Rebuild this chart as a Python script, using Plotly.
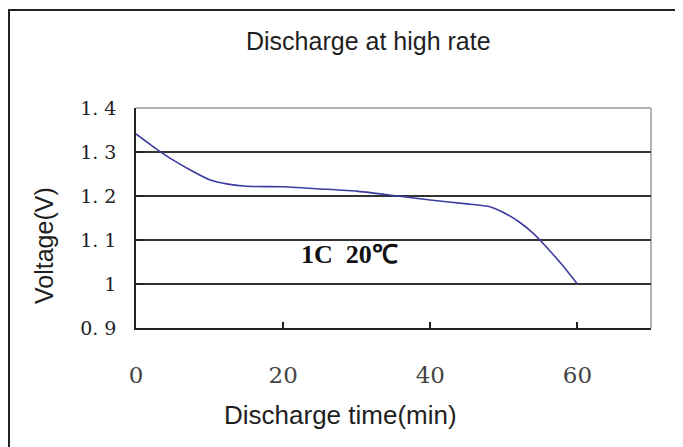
import plotly.graph_objects as go

# discharge curve
time_min = [0, 2.5, 5, 7.5, 10, 12.5, 15, 20, 25, 30, 35, 40, 45, 48, 50, 52, 54, 56, 58, 60]
voltage = [1.341, 1.31, 1.282, 1.258, 1.237, 1.227, 1.222, 1.221, 1.216, 1.211, 1.201, 1.191, 1.182, 1.176, 1.162, 1.142, 1.115, 1.08, 1.042, 1.0]

y_ticks = [0.9, 1.0, 1.1, 1.2, 1.3, 1.4]
y_labels = ["0. 9", "1", "1. 1", "1. 2", "1. 3", "1. 4"]
x_ticks = [0, 20, 40, 60]
grid_lines = [1.0, 1.1, 1.2, 1.3]

_LINE = "#3c3c9e"
_AXIS = "#222222"
_EDGE = "#9a9a9a"
_TEXT = "#1f1f1f"
_SANS = "Liberation Sans, Arial, sans-serif"
_SERIF = "DejaVu Serif, serif"

fig = go.Figure()
fig.add_trace(go.Scatter(
    x=time_min, y=voltage,
    mode="lines",
    line=dict(color=_LINE, width=1.6, shape="spline", smoothing=0.4),
    showlegend=False,
    hoverinfo="skip",
))

fig.add_annotation(
    x=29, y=1.066, xref="x", yref="y",
    text="<b>1C  20℃</b>", showarrow=False,
    font=dict(family="Liberation Serif, serif", size=26, color="#111111"),
)

# title and axis titles, placed where the original has them
fig.add_annotation(x=0.4505, y=1.3045, xref="paper", yref="paper", text="Discharge at high rate",
                   xanchor="center", yanchor="middle",
                   showarrow=False, font=dict(family=_SANS, size=25, color=_TEXT))
fig.add_annotation(x=0.398, y=-0.3955, xref="paper", yref="paper", text="Discharge time(min)",
                   xanchor="center", yanchor="middle",
                   showarrow=False, font=dict(family=_SANS, size=26, color=_TEXT))
fig.add_annotation(x=-0.1786, y=0.3727, xref="paper", yref="paper", text="Voltage(V)", textangle=-90,
                   xanchor="center", yanchor="middle",
                   showarrow=False, font=dict(family=_SANS, size=25, color=_TEXT))

# grey top / right edges of the plot box
fig.add_shape(type="line", xref="paper", yref="paper", x0=0, x1=1, y0=1, y1=1,
              line=dict(color=_EDGE, width=1.5), layer="below")
fig.add_shape(type="line", xref="paper", yref="paper", x0=1, x1=1, y0=0, y1=1,
              line=dict(color=_EDGE, width=1.5), layer="below")
# outer frame, open at the right and bottom
fig.add_shape(type="rect", xref="paper", yref="paper", x0=-0.2466, x1=1.2, y0=-0.7, y1=1.4455,
              line=dict(color=_AXIS, width=2))

fig.update_layout(
    width=683, height=447,
    paper_bgcolor="#FFFFFF", plot_bgcolor="#FFFFFF",
    margin=dict(l=128, r=40, t=100, b=127),
    xaxis=dict(
        range=[0, 70], tickvals=x_ticks, ticks="inside", ticklen=6, tickwidth=1.5, tickcolor=_AXIS,
        showline=True, linecolor=_AXIS, linewidth=1.5, showgrid=False, zeroline=False,
        tickfont=dict(family=_SERIF, size=23, color="#444444"), ticklabelstandoff=26,
        fixedrange=True,
    ),
    yaxis=dict(
        range=[0.9, 1.4], tickvals=y_ticks, ticktext=y_labels, ticks="inside", ticklen=8, tickwidth=1.5,
        tickcolor=_AXIS, showline=True, linecolor=_AXIS, linewidth=1.5, showgrid=False, zeroline=False,
        tickfont=dict(family=_SERIF, size=19, color="#222222"), ticklabelstandoff=14,
        minor=dict(tickvals=grid_lines, showgrid=True, gridcolor="#333333", gridwidth=1.5, ticks=""),
        fixedrange=True,
    ),
)

fig.write_html("out.html")
